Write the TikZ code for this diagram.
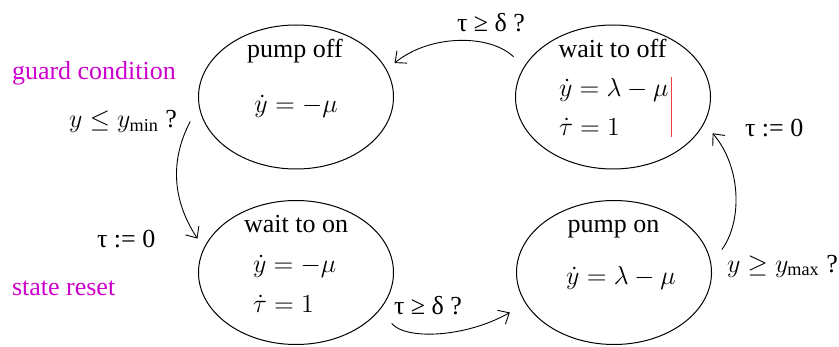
\RequirePackage{fix-cm}
\documentclass[tikz,border=0pt]{standalone}
\usepackage{amsmath}
\usepackage[no-math]{fontspec}
\setmainfont{Liberation Serif}
\usetikzlibrary{shapes.geometric,arrows.meta,calc}
\definecolor{guardmag}{RGB}{205,0,205}
\definecolor{cursorred}{RGB}{240,60,60}
\tikzset{
  statebox/.style={ellipse, draw, line width=0.5pt, minimum width=97.5pt, minimum height=72pt, inner sep=0pt, outer sep=0pt},
  txt/.style={inner sep=0pt, outer sep=0pt, font=\fontsize{13}{15}\selectfont},
  note/.style={txt, text=guardmag},
  conn/.style={line width=0.45pt, -{Straight Barb[length=4.5pt,width=8pt]}}
}
\begin{document}
\begin{tikzpicture}[x=0.5pt,y=-0.5pt]
\useasboundingbox (0,0) rectangle (839,347);
% states
\node[statebox] (pumpoff) at (296,97) {};
\node[statebox] (waittooff) at (613,97) {};
\node[statebox] (waittoon) at (296,272.5) {};
\node[statebox] (pumpon) at (614,272.5) {};
% state texts
\node[txt, anchor=base] (pumpoffT) at (295,58) {pump off};
\node[txt, anchor=base] (pumpoffE) at (296,113) {$\dot y = -\mu$};
\node[txt, anchor=base] (waittooffT) at (612.5,58) {wait to off};
\node[txt, anchor=base west] (waittooffE1) at (559,97) {$\dot y = \lambda - \mu$};
\node[txt, anchor=base west] (waittooffE2) at (559,136) {$\dot \tau = 1$};
\node[txt, anchor=base] (waittoonT) at (296,232) {wait to on};
\node[txt, anchor=base west] (waittoonE1) at (253,272) {$\dot y = -\mu$};
\node[txt, anchor=base west] (waittoonE2) at (253,312) {$\dot \tau = 1$};
\node[txt, anchor=base] (pumponT) at (613.5,232) {pump on};
\node[txt, anchor=base] (pumponE) at (621,284) {$\dot y = \lambda - \mu$};
% labels
\node[note, anchor=base west] (guard) at (12,80) {guard condition};
\node[note, anchor=base west] (reset) at (12,295) {state reset};
\node[txt, anchor=base east] (gmin) at (177,128) {$y \leq y_{\text{min}}$ ?};
\node[txt, anchor=base west] (gtop) at (457,32) {τ ≥ δ ?};
\node[txt, anchor=base west] (rright) at (745,137) {τ := 0};
\node[txt, anchor=base west] (rleft) at (97,247) {τ := 0};
\node[txt, anchor=base west] (gbot) at (394,314) {τ ≥ δ ?};
\node[txt, anchor=base west] (gmax) at (727,272) {$y \geq y_{\text{max}}$ ?};
% transitions
\draw[conn] ($(pumpoff.center)!1.136!(pumpoff.193)$) .. controls (170,160) and (172,200) .. ($(waittoon.center)!1.115!(waittoon.161)$);
\draw[conn] ($(waittoon.center)!1.209!(waittoon.332.7)$) .. controls (405,340) and (465,338) .. ($(pumpon.center)!1.204!(pumpon.201.5)$);
\draw[conn] ($(pumpon.center)!1.151!(pumpon.12.5)$) .. controls (742,222) and (742,168) .. ($(waittooff.center)!1.139!(waittooff.340.9)$);
\draw[conn] ($(waittooff.center)!1.162!(waittooff.158.2)$) .. controls (490,34) and (430,34) .. ($(pumpoff.center)!1.115!(pumpoff.19)$);
% cursor mark
\draw[cursorred, line width=0.5pt] (671,77) -- (671,137);
\end{tikzpicture}
\end{document}
